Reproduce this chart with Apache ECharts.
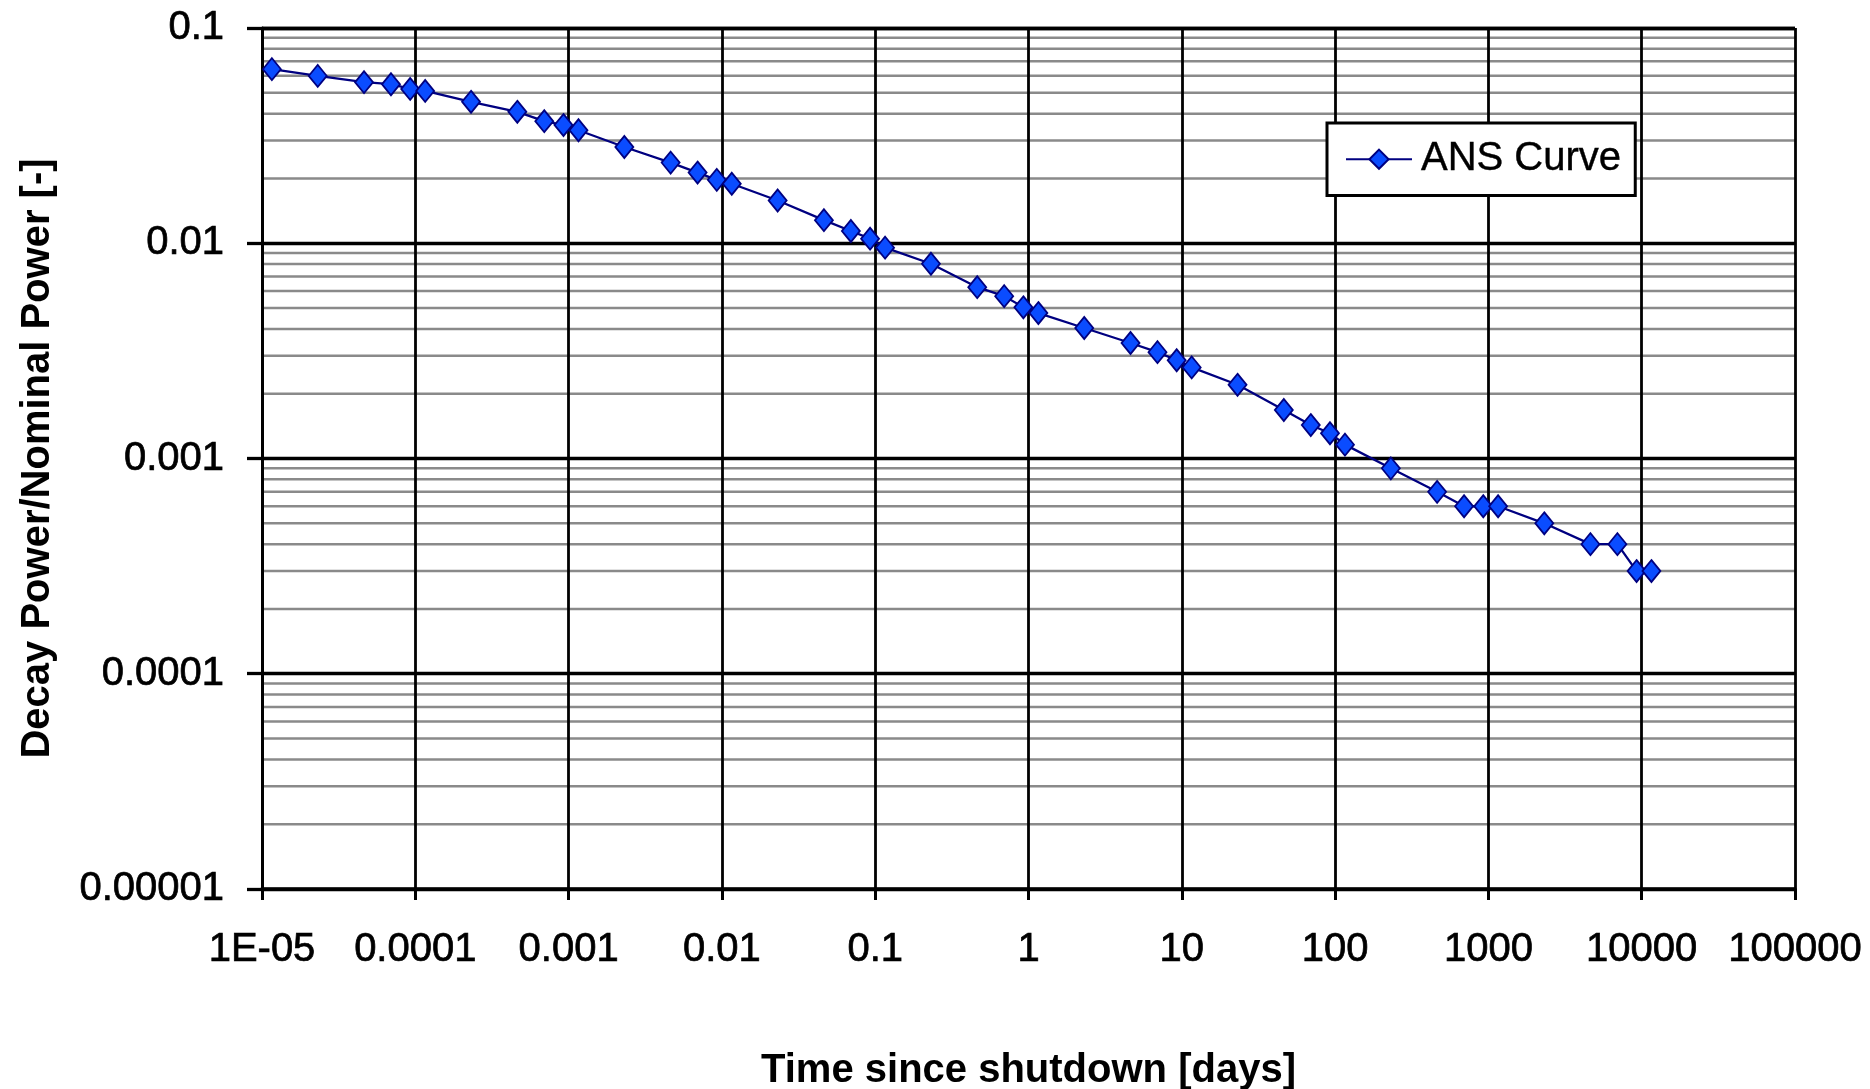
<!DOCTYPE html>
<html><head><meta charset="utf-8">
<script src="https://cdn.jsdelivr.net/npm/echarts@6/dist/echarts.min.js"></script>
<style>html,body{margin:0;padding:0;background:#fff}#c{width:1870px;height:1089px}</style>
</head><body><div id="c"></div>
<script>
const seriesName = 'ANS Curve';
const xAxisTitle = 'Time since shutdown [days]';
const yAxisTitle = 'Decay Power/Nominal Power [-]';
const timeDays = [1.16e-5, 2.31e-5, 4.63e-5, 6.94e-5, 9.26e-5,
  1.16e-4, 2.31e-4, 4.63e-4, 6.94e-4, 9.26e-4,
  1.16e-3, 2.31e-3, 4.63e-3, 6.94e-3, 9.26e-3,
  1.16e-2, 2.31e-2, 4.63e-2, 6.94e-2, 9.26e-2,
  0.116, 0.231, 0.463, 0.694, 0.926,
  1.16, 2.31, 4.63, 6.94, 9.26,
  11.6, 23.1, 46.3, 69.4, 92.6,
  116, 231, 463, 694, 926,
  1157, 2315, 4630, 6944, 9259, 11574];
const decayPower = [0.0644, 0.0599, 0.0560, 0.0548, 0.0521,
  0.0510, 0.0454, 0.0408, 0.0369, 0.0354,
  0.0335, 0.0280, 0.0237, 0.0213, 0.0197,
  0.0189, 0.0158, 0.0128, 0.0114, 0.0105,
  0.00954, 0.00803, 0.00625, 0.00568, 0.00504,
  0.00474, 0.00404, 0.00344, 0.00312, 0.00286,
  0.00265, 0.00220, 0.00168, 0.00143, 0.00131,
  0.00116, 0.0009, 0.0007, 0.0006, 0.0006,
  0.0006, 0.0005, 0.0004, 0.0004, 0.0003, 0.0003];
const xTickLabels = ['1E-05','0.0001','0.001','0.01','0.1','1','10','100','1000','10000','100000'];
const yTickLabels = ['0.00001','0.0001','0.001','0.01','0.1'];
const minorGridValues = [
  0.02,0.03,0.04,0.05,0.06,0.07,0.08,0.09,
  0.002,0.003,0.004,0.005,0.006,0.007,0.008,0.009,
  0.0002,0.0003,0.0004,0.0005,0.0006,0.0007,0.0008,0.0009,
  0.00002,0.00003,0.00004,0.00005,0.00006,0.00007,0.00008,0.00009];
const X_MIN = 1e-5, X_MAX = 1e5, Y_MIN = 1e-5, Y_MAX = 0.1;

const FONT = "'Liberation Sans', Arial, sans-serif";
const tickText = {fontSize: 40, color: '#000', fontFamily: FONT, textBorderColor: '#000', textBorderWidth: 0.7};
const chart = echarts.init(document.getElementById('c'), null, {renderer: 'canvas'});
chart.setOption({
  backgroundColor: '#ffffff',
  animation: false,
  textStyle: {fontFamily: FONT, color: '#000'},
  grid: {left: 262, right: 75, top: 28, bottom: 200, containLabel: false, outerBoundsMode: 'none'},
  legend: {
    data: [seriesName],
    left: 1327, top: 123,
    orient: 'vertical',
    padding: [16, 14, 16, 18],
    itemWidth: 66, itemHeight: 24, itemGap: 0,
    backgroundColor: '#fff',
    borderColor: '#000', borderWidth: 3, borderRadius: 0,
    textStyle: {fontSize: 40, color: '#000', fontFamily: FONT, padding: [0,0,0,4],
      textBorderColor: '#000', textBorderWidth: 0.4}
  },
  xAxis: {
    type: 'log', logBase: 10, min: X_MIN, max: X_MAX, interval: 1,
    name: xAxisTitle, nameLocation: 'middle', nameGap: 162,
    nameTextStyle: {fontSize: 40, fontWeight: 'bold', color: '#000', fontFamily: FONT},
    axisLine: {show: true, lineStyle: {color: '#000', width: 3.5}},
    axisTick: {show: true, length: 11, lineStyle: {color: '#000', width: 3}},
    axisLabel: Object.assign({margin: 41,
      formatter: v => xTickLabels[Math.round(Math.log10(v)) + 5]}, tickText),
    splitLine: {show: true, lineStyle: {color: '#000', width: 2.8}},
    minorTick: {show: false}, minorSplitLine: {show: false}
  },
  yAxis: {
    type: 'log', logBase: 10, min: Y_MIN, max: Y_MAX, splitNumber: 4,
    name: yAxisTitle, nameLocation: 'middle', nameGap: 204, nameRotate: 90,
    nameTextStyle: {fontSize: 40, fontWeight: 'bold', color: '#000', fontFamily: FONT},
    axisLine: {show: true, lineStyle: {color: '#000', width: 3}},
    axisTick: {show: true, length: 15, lineStyle: {color: '#000', width: 3.3}},
    axisLabel: Object.assign({margin: 38,
      formatter: v => yTickLabels[Math.round(Math.log10(v)) + 5]}, tickText),
    splitLine: {show: true, lineStyle: {color: '#000', width: 3.3}},
    minorTick: {show: false}, minorSplitLine: {show: false}
  },
  series: [
    {
      name: 'minorGrid', type: 'custom', silent: true, z: -1,
      data: minorGridValues.map(v => [X_MIN, v]),
      encode: {x: 0, y: 1},
      renderItem: function (params, api) {
        const v = api.value(1);
        const p1 = api.coord([X_MIN, v]);
        const p2 = api.coord([X_MAX, v]);
        return {type: 'line', z2: 0,
          shape: {x1: p1[0], y1: p1[1], x2: p2[0], y2: p2[1]},
          style: {stroke: '#8a8a8a', lineWidth: 2.5}};
      }
    },
    {
      name: seriesName, type: 'line', z: 5,
      data: timeDays.map((t, i) => [t, decayPower[i]]),
      symbol: 'diamond', symbolSize: [18, 22],
      showAllSymbol: true,
      lineStyle: {color: '#000080', width: 2.3},
      itemStyle: {color: '#0a4cff', borderColor: '#000080', borderWidth: 1.8}
    }
  ]
});
</script></body></html>
